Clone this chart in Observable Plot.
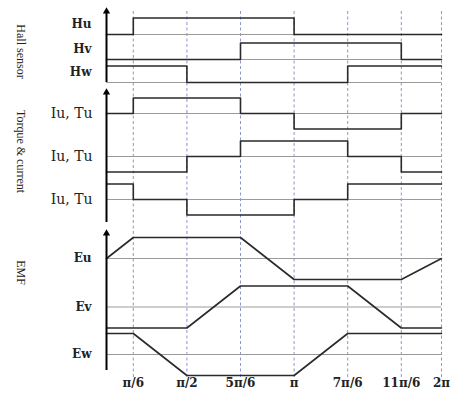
<!DOCTYPE html>
<html>
<head>
<meta charset="utf-8">
<script src="https://cdn.jsdelivr.net/npm/d3@7"></script>
<script src="https://cdn.jsdelivr.net/npm/@observablehq/plot@0.6"></script>
<style>
  html, body { margin: 0; padding: 0; background: #fff; }
  #chart { width: 454px; height: 396px; }
</style>
</head>
<body>
<div id="chart"></div>
<script>
// ---- Data ----
// Schematic x positions of the sector boundaries (start + 7 ticks)
const sectorEdges = [0, 0.5, 1.5, 2.5, 3.5, 4.5, 5.5, 6.25];
const tickLabels = ["π/6", "π/2", "5π/6", "π", "7π/6", "11π/6", "2π"];

// Hall sensor states per sector (0 = low, 1 = high)
const hallNames = ["Hu", "Hv", "Hw"];
const Hu = [0, 1, 1, 1, 0, 0, 0];
const Hv = [0, 0, 0, 1, 1, 1, 0];
const Hw = [1, 1, 0, 0, 0, 1, 1];

// Torque & current per sector (-1, 0, +1)
const torqueNames = ["Iu, Tu", "Iu, Tu", "Iu, Tu"];
const Iu1 = [0, 1, 1, 0, -1, -1, 0];
const Iu2 = [-1, -1, 0, 1, 1, 0, -1];
const Iu3 = [1, 0, -1, -1, 0, 1, 1];

// Back EMF values at each sector boundary (-1 .. +1)
const emfNames = ["Eu", "Ev", "Ew"];
const Eu = [0, 1, 1, 1, -1, -1, -1, 0];
const Ev = [-1, -1, -1, 1, 1, 1, -1, -1];
const Ew = [1, 1, -1, -1, -1, 1, 1, 1];

const panelTitles = ["Hall sensor", "Torque & current", "EMF"];

// ---- Layout (vertical rows, in layout units) ----
const hallBase = [34, 59, 82], hallAmp = 16.5;
const torqueBase = [113, 156, 199], torqueAmp = 15.5;
const emfBase = [258, 306.5, 354], emfAmp = 21;
const axesSpan = [[7, 82], [88, 222], [229, 370]];
const panelMid = [51, 151, 272];

// ---- Build tables ----
function stepPoints(levels, base, amp, key) {
  const pts = levels.map((v, i) => ({x: sectorEdges[i], y: base - v * amp, key}));
  pts.push({x: sectorEdges[sectorEdges.length - 1], y: base - levels[levels.length - 1] * amp, key});
  return pts;
}
function polyPoints(values, base, amp, key) {
  return values.map((v, i) => ({x: sectorEdges[i], y: base - v * amp, key}));
}
const stepData = [
  ...stepPoints(Hu, hallBase[0], hallAmp, "Hu"),
  ...stepPoints(Hv, hallBase[1], hallAmp, "Hv"),
  ...stepPoints(Hw, hallBase[2], hallAmp, "Hw"),
  ...stepPoints(Iu1, torqueBase[0], torqueAmp, "I1"),
  ...stepPoints(Iu2, torqueBase[1], torqueAmp, "I2"),
  ...stepPoints(Iu3, torqueBase[2], torqueAmp, "I3")
];
const emfData = [
  ...polyPoints(Eu, emfBase[0], emfAmp, "Eu"),
  ...polyPoints(Ev, emfBase[1], emfAmp, "Ev"),
  ...polyPoints(Ew, emfBase[2], emfAmp, "Ew")
];
const baselines = [...hallBase, ...torqueBase, ...emfBase];
const ticks = sectorEdges.slice(1);
const xEnd = sectorEdges[sectorEdges.length - 1];

const signalLabels = [
  ...hallNames.map((t, i) => ({t, y: hallBase[i] - hallAmp * 0.6, kind: "h"})),
  ...torqueNames.map((t, i) => ({t, y: torqueBase[i], kind: "i"})),
  ...emfNames.map((t, i) => ({t, y: emfBase[i], kind: "e"}))
];
const titleRows = panelTitles.map((t, i) => ({t, y: panelMid[i]}));

const serif = "'DejaVu Serif', 'Liberation Serif', serif";
const times = "'Liberation Serif', 'Times New Roman', serif";

const chart = Plot.plot({
  width: 454,
  height: 396,
  marginLeft: 106,
  marginRight: 13,
  marginTop: 0,
  marginBottom: 20,
  style: {background: "#fff", overflow: "visible"},
  x: {domain: [0, xEnd], axis: null},
  y: {domain: [0, 396], range: [0, 396], axis: null},
  marks: [
    // dashed sector boundaries
    Plot.ruleX(ticks, {y1: 11, y2: 377, stroke: "#8e96cc", strokeWidth: 1, strokeDasharray: "3,2.5"}),
    // gray baselines
    Plot.ruleY(baselines, {x1: 0, x2: xEnd, stroke: "#9a9a9a", strokeWidth: 1}),
    // square waves
    Plot.line(stepData, {x: "x", y: "y", z: "key", curve: "step-after", stroke: "#2a2a2a", strokeWidth: 1.6}),
    // trapezoidal EMF
    Plot.line(emfData, {x: "x", y: "y", z: "key", stroke: "#2a2a2a", strokeWidth: 1.6}),
    // vertical axes with arrowheads
    Plot.ruleX(axesSpan, {x: () => 0, y1: d => d[0] + 3, y2: d => d[1], stroke: "#000", strokeWidth: 2}),
    Plot.dot(axesSpan, {x: () => 0, y: d => d[0] + 3.9, symbol: "triangle", r: 2.7, fill: "#000", stroke: null}),
    // signal labels
    Plot.text(signalLabels.filter(d => d.kind !== "i"), {x: () => 0, y: "y", text: "t", dx: -15, textAnchor: "end",
      fontFamily: serif, fontWeight: "bold", fontSize: 12, fill: "#222"}),
    Plot.text(signalLabels.filter(d => d.kind === "i"), {x: () => 0, y: "y", text: "t", dx: -14, textAnchor: "end",
      fontFamily: serif, fontSize: 14, fill: "#222"}),
    // panel titles (rotated)
    Plot.text(titleRows, {x: () => 0, y: "y", text: "t", dx: -86, rotate: 90, lineWidth: Infinity,
      fontFamily: times, fontSize: 12, fill: "#222"}),
    // x axis tick labels
    Plot.axisX(ticks, {anchor: "bottom", label: null, tickSize: 0, tickPadding: 2, tickFormat: (d, i) => tickLabels[i],
      fontFamily: serif, fontWeight: "bold", fontSize: 12, fill: "#222"})
  ]
});
document.getElementById("chart").appendChild(chart);
</script>
</body>
</html>
